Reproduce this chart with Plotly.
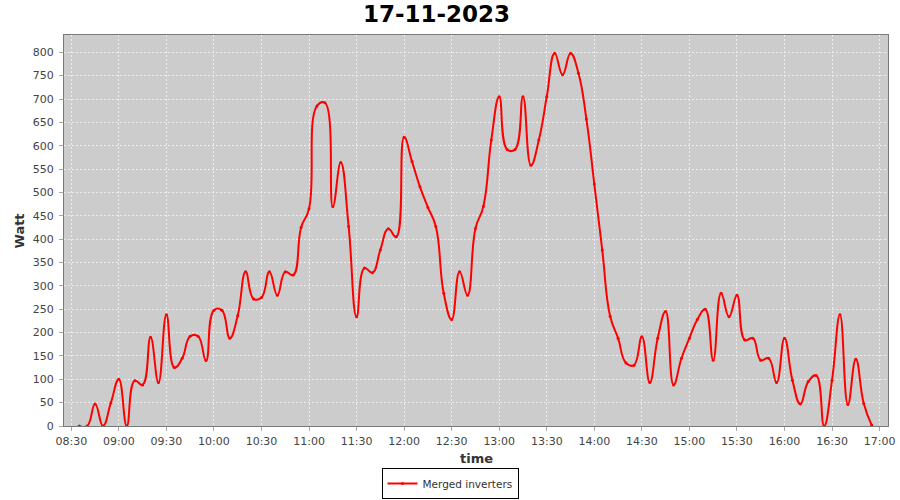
import plotly.graph_objects as go
import pandas as pd

date = "2023-11-17"
start_time = "08:35"
interval_min = 5
watts = [
    0, 0, 47, 0, 50, 100, 0, 97, 88, 190, 93, 238, 125, 145, 192, 192, 140,  # 08:35-09:55
    248, 248, 188, 236, 330, 272, 275, 330, 280, 330, 323, 425,              # 10:00-10:55
    465, 685, 692, 470, 564, 427, 234, 338, 328, 377, 422, 405,              # 11:00-11:55
    618, 566, 512, 468, 427, 284, 228, 330, 280, 423, 470, 612,              # 12:00-12:55
    705, 592, 592, 705, 558, 612, 705, 798, 752, 798, 755, 657,              # 13:00-13:55
    518, 377, 235, 188, 135, 130, 191, 93, 188, 245, 88, 145,                # 14:00-14:55
    188, 228, 250, 141, 284, 234, 280, 184, 188, 141, 145, 93,               # 15:00-15:55
    188, 98, 47, 95, 108, 0, 98, 238, 46, 143, 48, 2,                        # 16:00-16:55
]
times = pd.date_range(f"{date} {start_time}", periods=len(watts), freq=f"{interval_min}min")

series_name = "Merged inverters"
title_text = "17-11-2023"
x_title = "time"
y_title = "Watt"

fig = go.Figure()
fig.add_trace(go.Scatter(
    x=times, y=watts, name=series_name, mode="lines+markers",
    line=dict(color="#FF0000", width=2, shape="spline", smoothing=1.3),
    marker=dict(size=3, color="#FF0000"),
    showlegend=True,
))

grid_style = dict(showgrid=True, gridcolor="#EEEEEE", griddash="2px,2px", gridwidth=1)
line_style = dict(showline=True, linecolor="#7A7A7A", linewidth=1, mirror=True,
                  ticks="outside", ticklen=4, tickcolor="#A8A8A8", zeroline=False,
                  automargin=False,
                  tickfont=dict(size=11, color="#444444"))

fig.update_layout(
    width=900, height=500, autosize=False,
    paper_bgcolor="white", plot_bgcolor="#CCCCCC",
    margin=dict(l=64, r=12, t=35, b=74),
    font=dict(family="DejaVu Sans", size=11, color="#444444"),
    title=dict(text=f"<b>{title_text}</b>", xref="container", x=0.485, xanchor="center",
               y=0.972, yanchor="middle",
               font=dict(family="DejaVu Sans", size=23, color="black")),
    legend=dict(orientation="h", xref="container", yref="container",
                x=0.5, xanchor="center", y=0.002, yanchor="bottom",
                bordercolor="black", borderwidth=1, bgcolor="white",
                font=dict(family="DejaVu Sans", size=10.5, color="#333333"),
                itemwidth=30, tracegroupgap=0),
    xaxis=dict(
        type="date",
        range=[f"{date} 08:25:24", f"{date} 17:05:18"],
        dtick=30 * 60 * 1000, tick0=f"{date} 08:30", tickformat="%H:%M",
        ticklabelstandoff=1,
        **grid_style, **line_style,
    ),
    yaxis=dict(
        range=[0, 837], dtick=50, tick0=0,
        ticklabelstandoff=3,
        **grid_style, **line_style,
    ),
    annotations=[
        dict(text=f"<b>{x_title}</b>", xref="paper", yref="paper", x=0.5, y=-0.084,
             xanchor="center", yanchor="middle", showarrow=False,
             font=dict(family="DejaVu Sans", size=13, color="#333333")),
        dict(text=f"<b>{y_title}</b>", xref="paper", yref="paper", x=-0.0534, y=0.5,
             xanchor="center", yanchor="middle", showarrow=False, textangle=-90,
             font=dict(family="DejaVu Sans", size=13, color="#333333")),
    ],
)

page_fix = (
    "document.documentElement.style.margin='0';"
    "document.body.style.margin='0';document.body.style.padding='0';"
    "document.body.style.overflow='hidden';"
    "var gd=document.getElementById('{plot_id}');"
    "gd.style.width='900px';gd.style.height='500px';"
    "Plotly.relayout(gd,{width:900,height:500});"
)

fig.write_html("out.html", post_script=page_fix, config={"displayModeBar": False})
